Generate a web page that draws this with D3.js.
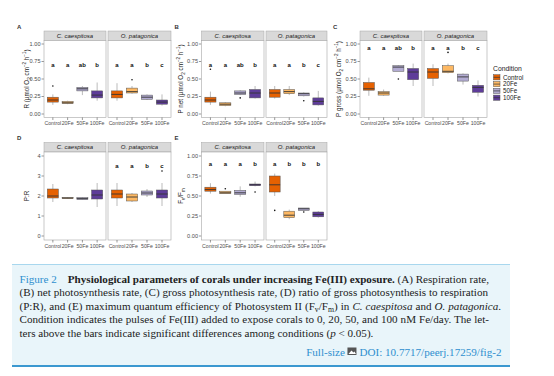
<!DOCTYPE html>
<html>
<head>
<meta charset="utf-8">
<script src="https://cdn.jsdelivr.net/npm/d3@7"></script>
<style>
  body { margin: 0; background: #fff; }
  svg { display: block; font-family: "Liberation Sans", Arial, sans-serif; }
</style>
</head>
<body>
<svg id="fig" width="554" height="376"></svg>
<script>
const conditions = ["Control", "20Fe", "50Fe", "100Fe"];
const species = ["C. caespitosa", "O. patagonica"];
const condColors = ["#e66101", "#fdb863", "#b2abd2", "#5e3c99"];

// box stats: [lower whisker, q1, median, q3, upper whisker] per condition
const respCaes = [[0.13, 0.17, 0.20, 0.24, 0.28], [0.14, 0.15, 0.16, 0.18, 0.19], [0.27, 0.33, 0.36, 0.38, 0.40], [0.19, 0.23, 0.27, 0.33, 0.45]];
const respPata = [[0.19, 0.23, 0.28, 0.33, 0.44], [0.29, 0.30, 0.32, 0.37, 0.40], [0.20, 0.21, 0.24, 0.27, 0.28], [0.12, 0.14, 0.17, 0.20, 0.28]];
const respOutliers = [[0, 0, 0.40], [1, 1, 0.49]]; // [species, condition, value]
const respLetters = [["a", "a", "ab", "b"], ["a", "a", "b", "c"]];

const netCaes = [[0.13, 0.17, 0.20, 0.24, 0.32], [0.11, 0.12, 0.14, 0.16, 0.17], [0.27, 0.28, 0.30, 0.33, 0.34], [0.22, 0.23, 0.30, 0.35, 0.40]];
const netPata = [[0.22, 0.24, 0.30, 0.35, 0.40], [0.27, 0.29, 0.32, 0.35, 0.40], [0.25, 0.26, 0.29, 0.30, 0.31], [0.12, 0.13, 0.18, 0.23, 0.33]];
const netOutliers = [[0, 0, 0.64], [0, 2, 0.23], [1, 2, 0.19]];
const netLetters = [["a", "a", "ab", "b"], ["a", "a", "b", "c"]];

const grossCaes = [[0.26, 0.34, 0.36, 0.45, 0.52], [0.26, 0.27, 0.30, 0.32, 0.35], [0.61, 0.61, 0.67, 0.69, 0.70], [0.40, 0.49, 0.60, 0.65, 0.72]];
const grossPata = [[0.40, 0.51, 0.60, 0.65, 0.71], [0.58, 0.59, 0.61, 0.69, 0.72], [0.42, 0.47, 0.53, 0.57, 0.58], [0.25, 0.31, 0.38, 0.41, 0.48]];
const grossOutliers = [[0, 2, 0.50], [1, 1, 0.88]];
const grossLetters = [["a", "a", "ab", "b"], ["a", "a", "b", "c"]];

const prCaes = [[1.70, 1.90, 2.00, 2.35, 2.60], [1.85, 1.87, 1.90, 1.92, 1.95], [1.80, 1.82, 1.87, 1.92, 1.95], [1.45, 1.85, 2.05, 2.30, 2.65]];
const prPata = [[1.50, 1.90, 2.10, 2.30, 2.65], [1.70, 1.75, 1.95, 2.10, 2.15], [1.95, 2.05, 2.15, 2.25, 2.35], [1.50, 1.90, 2.10, 2.30, 2.65]];
const prOutliers = [[1, 3, 3.25]];
const prLetters = [["", "", "", ""], ["a", "a", "b", "c"]];

const fvfmCaes = [[0.53, 0.56, 0.58, 0.61, 0.66], [0.53, 0.53, 0.54, 0.56, 0.56], [0.49, 0.52, 0.54, 0.57, 0.62], [0.62, 0.63, 0.64, 0.65, 0.68]];
const fvfmPata = [[0.50, 0.55, 0.64, 0.75, 0.78], [0.21, 0.23, 0.26, 0.31, 0.33], [0.31, 0.32, 0.34, 0.35, 0.35], [0.23, 0.24, 0.27, 0.30, 0.31]];
const fvfmOutliers = [[0, 1, 0.59], [0, 3, 0.55], [1, 0, 0.32], [1, 2, 0.30]];
const fvfmLetters = [["a", "a", "a", "b"], ["a", "b", "b", "b"]];

const unitParts = [["O"], ["2", "sub"], [" cm"], ["\u22122", "sup"], [" h"], ["\u22121", "sup"], [")"]];

const panels = [
  { tag: "A", stats: [respCaes, respPata], outliers: respOutliers, letters: respLetters, letterY: 0.70,
    domain: [-0.05, 1.05], ticks: [0, 0.25, 0.5, 0.75, 1], fmt: ".2f",
    facets: [[44, 106], [108, 171]], top: 40.5, bottom: 117.5, titleX: 29,
    title: [["R (\u00b5mol "]].concat(unitParts) },
  { tag: "B", stats: [netCaes, netPata], outliers: netOutliers, letters: netLetters, letterY: 0.70,
    domain: [-0.05, 1.05], ticks: [0, 0.25, 0.5, 0.75, 1], fmt: ".2f",
    facets: [[201.5, 264], [266, 327]], top: 40.5, bottom: 117.5, titleX: 183,
    title: [["P net (\u00b5mol "]].concat(unitParts) },
  { tag: "C", stats: [grossCaes, grossPata], outliers: grossOutliers, letters: grossLetters, letterY: 0.95,
    domain: [-0.05, 1.05], ticks: [0, 0.25, 0.5, 0.75, 1], fmt: ".2f",
    facets: [[360, 422], [424, 487]], top: 40.5, bottom: 117.5, titleX: 341,
    title: [["P gross (\u00b5mol "]].concat(unitParts) },
  { tag: "D", stats: [prCaes, prPata], outliers: prOutliers, letters: prLetters, letterY: 3.5,
    domain: [-0.2, 4.2], ticks: [0, 1, 2, 3, 4], fmt: "d",
    facets: [[44, 106], [108, 171]], top: 152, bottom: 240, titleX: 29,
    title: [["P:R"]] },
  { tag: "E", stats: [fvfmCaes, fvfmPata], outliers: fvfmOutliers, letters: fvfmLetters, letterY: 0.90,
    domain: [-0.05, 1.05], ticks: [0, 0.25, 0.5, 0.75, 1], fmt: ".2f",
    facets: [[201.5, 264], [266, 327]], top: 152, bottom: 240, titleX: 183,
    title: [["F"], ["v", "sub"], ["/F"], ["m", "sub"]] }
];

const svg = d3.select("#fig");
const color = d3.scaleOrdinal().domain(conditions).range(condColors);

// appends tspans; sub/sup shift the baseline and the next part shifts it back
function richText(sel, parts, size) {
  let back = 0;
  parts.forEach(([t, kind]) => {
    const sp = sel.append("tspan").text(t);
    let dy = back;
    back = 0;
    if (kind === "sub") { sp.attr("font-size", size * 0.72); dy += size * 0.25; back = -size * 0.25; }
    if (kind === "sup") { sp.attr("font-size", size * 0.72); dy -= size * 0.4; back = size * 0.4; }
    if (dy) sp.attr("dy", dy);
  });
}

panels.forEach((p) => {
  const g = svg.append("g");
  const y = d3.scaleLinear().domain(p.domain).range([p.bottom, p.top]);
  const fmt = d3.format(p.fmt);

  // panel tag
  g.append("text").attr("x", p.facets[0][0] - 27).attr("y", p.top - 12)
    .attr("font-size", 6).attr("font-weight", "bold").attr("fill", "#333").text(p.tag);

  // y title
  const yt = g.append("text")
    .attr("transform", `translate(${p.titleX},${(p.top + p.bottom) / 2}) rotate(-90)`)
    .attr("text-anchor", "middle").attr("font-size", 6.3).attr("fill", "#1a1a1a");
  richText(yt, p.title, 6.3);

  // y axis ticks
  const x0 = p.facets[0][0];
  p.ticks.forEach((t) => {
    g.append("line").attr("x1", x0 - 2.5).attr("x2", x0).attr("y1", y(t)).attr("y2", y(t))
      .attr("stroke", "#333").attr("stroke-width", 0.5);
    g.append("text").attr("x", x0 - 3.5).attr("y", y(t)).attr("dy", "0.35em")
      .attr("text-anchor", "end").attr("font-size", 5.6).attr("fill", "#4d4d4d").text(fmt(t));
  });

  p.facets.forEach(([a, b], si) => {
    const x = d3.scalePoint().domain(conditions).range([a, b]).padding(0.6);
    const bw = x.step() * 0.75;
    const fg = g.append("g");

    // strip
    fg.append("rect").attr("x", a).attr("y", p.top - 9.5).attr("width", b - a).attr("height", 9.5)
      .attr("fill", "#d9d9d9").attr("stroke", "#a6a6a6").attr("stroke-width", 0.5);
    fg.append("text").attr("x", (a + b) / 2).attr("y", p.top - 4.75).attr("dy", "0.35em")
      .attr("text-anchor", "middle").attr("font-size", 6).attr("font-style", "italic")
      .attr("fill", "#1a1a1a").text(species[si]);

    // panel background
    fg.append("rect").attr("x", a).attr("y", p.top).attr("width", b - a).attr("height", p.bottom - p.top)
      .attr("fill", "#fff").attr("stroke", "#a6a6a6").attr("stroke-width", 0.6);

    // boxes
    const boxes = fg.selectAll(".box").data(p.stats[si]).join("g").attr("class", "box")
      .attr("transform", (d, i) => `translate(${x(conditions[i])},0)`);
    boxes.append("line").attr("y1", (d) => y(d[0])).attr("y2", (d) => y(d[1]))
      .attr("stroke", "#777").attr("stroke-width", 0.5);
    boxes.append("line").attr("y1", (d) => y(d[3])).attr("y2", (d) => y(d[4]))
      .attr("stroke", "#777").attr("stroke-width", 0.5);
    boxes.append("rect").attr("x", -bw / 2).attr("width", bw)
      .attr("y", (d) => y(d[3])).attr("height", (d) => Math.max(0.6, y(d[1]) - y(d[3])))
      .attr("fill", (d, i) => color(conditions[i])).attr("stroke", "#555").attr("stroke-width", 0.5);
    boxes.append("line").attr("x1", -bw / 2).attr("x2", bw / 2)
      .attr("y1", (d) => y(d[2])).attr("y2", (d) => y(d[2]))
      .attr("stroke", "#333").attr("stroke-width", 0.9);

    // outliers
    fg.selectAll(".out").data(p.outliers.filter((o) => o[0] === si)).join("circle")
      .attr("cx", (o) => x(conditions[o[1]])).attr("cy", (o) => y(o[2])).attr("r", 0.8).attr("fill", "#111");

    // significance letters
    fg.selectAll(".let").data(p.letters[si].filter((d) => d)).join("text")
      .attr("x", (d, i) => x(conditions[i])).attr("y", y(p.letterY)).attr("dy", "0.35em")
      .attr("text-anchor", "middle").attr("font-size", 6).attr("font-weight", "bold").attr("fill", "#111")
      .text((d) => d);

    // x axis
    conditions.forEach((c) => {
      fg.append("line").attr("x1", x(c)).attr("x2", x(c)).attr("y1", p.bottom).attr("y2", p.bottom + 2.5)
        .attr("stroke", "#333").attr("stroke-width", 0.5);
      fg.append("text").attr("x", x(c)).attr("y", p.bottom + 4).attr("dy", "0.75em")
        .attr("text-anchor", "middle").attr("font-size", 5.2).attr("fill", "#4d4d4d").text(c);
    });
  });
});

// legend
const leg = svg.append("g").attr("transform", "translate(493,0)");
leg.append("text").attr("x", 0).attr("y", 69).attr("dy", "0.35em").attr("font-size", 6.8)
  .attr("fill", "#1a1a1a").text("Condition");
conditions.forEach((c, i) => {
  const cy = 77.3 + i * 6.8;
  leg.append("rect").attr("x", 0.5).attr("y", cy - 2.6).attr("width", 6.5).attr("height", 5.2)
    .attr("fill", color(c)).attr("stroke", "#555").attr("stroke-width", 0.5);
  leg.append("line").attr("x1", 0.5).attr("x2", 7).attr("y1", cy).attr("y2", cy)
    .attr("stroke", "#333").attr("stroke-width", 0.7);
  leg.append("text").attr("x", 10).attr("y", cy).attr("dy", "0.35em").attr("font-size", 6.3)
    .attr("fill", "#1a1a1a").text(c);
});

// caption box
const cap = svg.append("g").attr("font-family", "'Liberation Serif', 'Times New Roman', serif");
cap.append("rect").attr("x", 12).attr("y", 264).attr("width", 498).attr("height", 102).attr("fill", "#e9f5fa");
cap.append("line").attr("x1", 12).attr("x2", 510).attr("y1", 264.5).attr("y2", 264.5)
  .attr("stroke", "#a8d7ee").attr("stroke-width", 1);
cap.append("line").attr("x1", 12).attr("x2", 510).attr("y1", 366).attr("y2", 366)
  .attr("stroke", "#3b98d0").attr("stroke-width", 2);

const blue = "#2e8fcf";
const captionLines = [
  [["Figure 2", "blue"], ["\u2003"], ["Physiological parameters of corals under increasing Fe(III) exposure.", "bold"], [" (A) Respiration rate,"]],
  [["(B) net photosynthesis rate, (C) gross photosynthesis rate, (D) ratio of gross photosynthesis to respiration"]],
  [["(P:R), and (E) maximum quantum efficiency of Photosystem II (F"], ["v", "sub"], ["/F"], ["m", "sub"], [") in "], ["C. caespitosa", "italic"], [" and "], ["O. patagonica", "italic"], ["."]],
  [["Condition indicates the pulses of Fe(III) added to expose corals to 0, 20, 50, and 100 nM Fe/day. The let-"]],
  [["ters above the bars indicate significant differences among conditions ("], ["p", "italic"], [" < 0.05)."]]
];
const lineEnds = [489, 488, 501, 489, null];
const capSize = 11.1;
captionLines.forEach((parts, li) => {
  const t = cap.append("text").attr("x", 19.5).attr("y", 282.5 + li * 13.5)
    .attr("font-size", capSize).attr("fill", "#222");
  let back = 0;
  parts.forEach(([s, k]) => {
    const sp = t.append("tspan").text(s);
    if (back) { sp.attr("dy", back); back = 0; }
    if (k === "blue") sp.attr("fill", blue);
    if (k === "bold") sp.attr("font-weight", "bold");
    if (k === "italic") sp.attr("font-style", "italic");
    if (k === "sub") { sp.attr("font-size", capSize * 0.7).attr("dy", 2); back = -2; }
  });
  // justify like the typeset caption
  if (lineEnds[li]) {
    const len = t.node().getComputedTextLength();
    const spaces = parts.map((d) => d[0]).join("").split(" ").length - 1;
    const ws = (lineEnds[li] - 19.5 - len) / spaces;
    t.attr("word-spacing", ws);
  }
});

// full-size / DOI line
const doi = cap.append("text").attr("x", 501.5).attr("y", 355.5).attr("text-anchor", "end")
  .attr("font-size", capSize).attr("fill", blue).text("DOI: 10.7717/peerj.17259/fig-2");
const ix = 501.5 - doi.node().getComputedTextLength() - 12;
cap.append("rect").attr("x", ix).attr("y", 347.5).attr("width", 9).attr("height", 7.5).attr("fill", "#555");
cap.append("path").attr("d", `M${ix + 1},${354} L${ix + 4},${350.5} L${ix + 6},${352.5} L${ix + 7},${351.5} L${ix + 8.5},${354} Z`)
  .attr("fill", "#fff");
cap.append("text").attr("x", ix - 2.5).attr("y", 355.5).attr("text-anchor", "end")
  .attr("font-size", capSize).attr("fill", blue).text("Full-size");
</script>
</body>
</html>
